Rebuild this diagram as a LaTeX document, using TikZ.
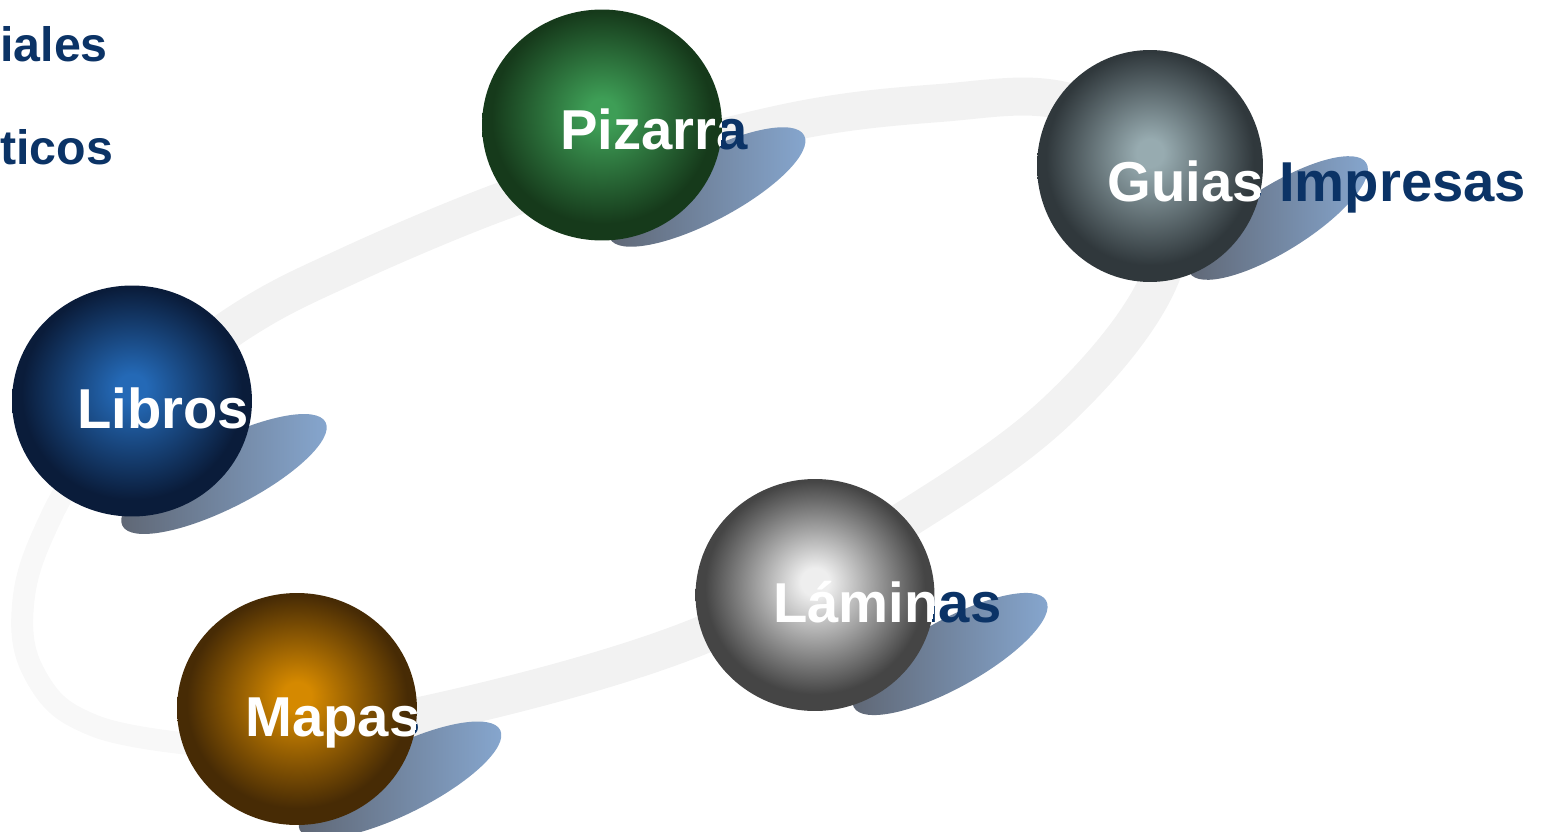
\documentclass[tikz,border=0pt]{standalone}
\usepackage{fontspec}
\setmainfont{Liberation Sans}
\usepackage{tikz}
\usetikzlibrary{shapes.geometric}
\definecolor{azul}{HTML}{0B3366}
\definecolor{anillo}{HTML}{F2F2F2}
\definecolor{anillosuave}{HTML}{F8F8F8}
\definecolor{sombraosc}{HTML}{5E6572}
\definecolor{sombraclara}{HTML}{87A8D1}
\definecolor{pizarrain}{HTML}{3E9E56}
\definecolor{pizarraout}{HTML}{163A1B}
\definecolor{guiasin}{HTML}{97ABB0}
\definecolor{guiasout}{HTML}{30383C}
\definecolor{librosin}{HTML}{2469B6}
\definecolor{librosout}{HTML}{0A1C3A}
\definecolor{laminasin}{HTML}{EEEEEE}
\definecolor{laminasout}{HTML}{454545}
\definecolor{mapasin}{HTML}{D58900}
\definecolor{mapasout}{HTML}{472B05}
\colorlet{bolain}{white}
\colorlet{bolaout}{black}
\pgfdeclareradialshading[bolain,bolaout]{bola}{\pgfpoint{0bp}{3bp}}%
  {color(0bp)=(bolain); color(3bp)=(bolain); color(23bp)=(bolaout); color(50bp)=(bolaout)}
\tikzset{esfera/.style 2 args = {ellipse, inner sep = 0, minimum width = 4.8cm,
                                 minimum height = 4.62cm,
                                 /utils/exec = {\colorlet{bolain}{#1}\colorlet{bolaout}{#2}},
                                 shading = bola}}
\tikzset{sombra/.style = {left color = sombraosc, right color = sombraclara}}
\tikzset{etiqueta/.style = {inner sep = 0, anchor = base west,
                            font = \fontsize{32}{36}\selectfont\bfseries}}
\tikzset{titulo/.style = {inner sep = 0, anchor = base west, text = azul,
                          font = \fontsize{27.5}{30}\selectfont\bfseries}}

\begin{document}
\begin{tikzpicture}[x=0.02cm, y=-0.02cm]
  \useasboundingbox (0,0) rectangle (1547,831);
  \draw [anillosuave, line width = 0.44cm] plot [smooth, tension = 0.7] coordinates
    {(110,420) (52,515) (23,605) (38,680) (95,726) (200,745)};
  \draw [anillo, line width = 0.76cm] plot [smooth, tension = 0.6] coordinates
    {(200,744) (420,716) (700,636) (905,520) (1058,410) (1160,278) (1168,150)
     (1060,100) (940,103) (800,120) (620,165) (500,202) (350,265) (240,322) (110,420)};
  \node [titulo] (materiales) at (0,62) {iales};
  \node [titulo] (didacticos) at (0,165) {ticos};

  \shade [sombra] (707,187) ellipse [x radius = 2.2cm, y radius = 0.68cm, rotate = 28];
  \node [etiqueta, text = azul] (pizarralbl) at (560,150) {Pizarra};
  \node [esfera = {pizarrain}{pizarraout}] (pizarra) at (602,125) {};
  \begin{scope}
    \clip (pizarra.center) ellipse [x radius = 2.4cm, y radius = 2.31cm];
    \node [etiqueta, text = white, anchor = center] (pizarrab) at (pizarralbl.center) {Pizarra};
  \end{scope}

  \shade [sombra] (1278,218) ellipse [x radius = 2.08cm, y radius = 0.66cm, rotate = 32];
  \node [etiqueta, text = azul] (guiaslbl) at (1107,201) {Guias Impresas};
  \node [esfera = {guiasin}{guiasout}, minimum width = 4.52cm, minimum height = 4.64cm] (guias) at (1150,166) {};
  \begin{scope}
    \clip (guias.center) ellipse [x radius = 2.26cm, y radius = 2.32cm];
    \node [etiqueta, text = white, anchor = center] (guiasb) at (guiaslbl.center) {Guias Impresas};
  \end{scope}

  \shade [sombra] (224,474) ellipse [x radius = 2.28cm, y radius = 0.68cm, rotate = 27];
  \node [etiqueta, text = azul] (libroslbl) at (77,428) {Libros};
  \node [esfera = {librosin}{librosout}] (libros) at (132,401) {};
  \begin{scope}
    \clip (libros.center) ellipse [x radius = 2.4cm, y radius = 2.31cm];
    \node [etiqueta, text = white, anchor = center] (librosb) at (libroslbl.center) {Libros};
  \end{scope}

  \shade [sombra] (950,654) ellipse [x radius = 2.2cm, y radius = 0.68cm, rotate = 29];
  \node [etiqueta, text = azul] (laminaslbl) at (773,622) {Láminas};
  \node [esfera = {laminasin}{laminasout}, minimum width = 4.78cm, minimum height = 4.64cm] (laminas) at (815,595) {};
  \begin{scope}
    \clip (laminas.center) ellipse [x radius = 2.39cm, y radius = 2.32cm];
    \node [etiqueta, text = white, anchor = center] (laminasb) at (laminaslbl.center) {Láminas};
  \end{scope}

  \shade [sombra] (400,780) ellipse [x radius = 2.24cm, y radius = 0.68cm, rotate = 26.5];
  \node [etiqueta, text = azul] (mapaslbl) at (245,736) {Mapas};
  \node [esfera = {mapasin}{mapasout}, minimum height = 4.64cm] (mapas) at (297,709) {};
  \begin{scope}
    \clip (mapas.center) ellipse [x radius = 2.4cm, y radius = 2.32cm];
    \node [etiqueta, text = white, anchor = center] (mapasb) at (mapaslbl.center) {Mapas};
  \end{scope}
\end{tikzpicture}
\end{document}
